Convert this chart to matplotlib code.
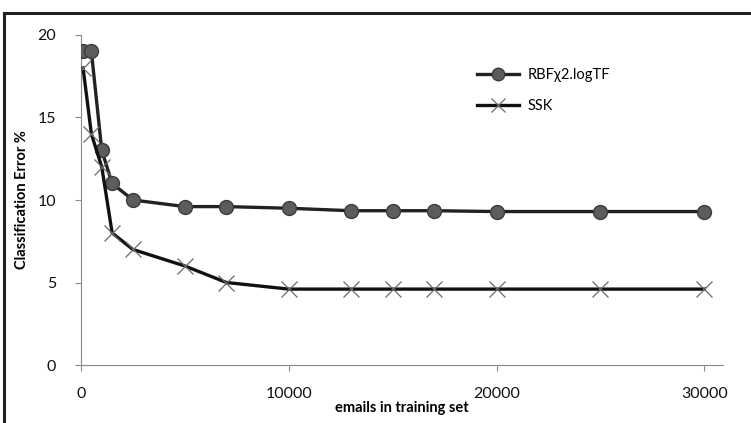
import matplotlib
matplotlib.use("Agg")
import matplotlib.pyplot as plt
from matplotlib.lines import Line2D

plt.rcParams['font.family'] = ['Lato', 'DejaVu Sans']

emails = [100, 500, 1000, 1500, 2500, 5000, 7000, 10000, 13000, 15000, 17000, 20000, 25000, 30000]
rbf_err = [19.0, 19.0, 13.0, 11.0, 10.0, 9.6, 9.6, 9.5, 9.35, 9.35, 9.35, 9.3, 9.3, 9.3]
ssk_err = [18.0, 14.0, 12.0, 8.0, 7.0, 6.0, 5.0, 4.6, 4.6, 4.6, 4.6, 4.6, 4.6, 4.6]
x_ticks = [0, 10000, 20000, 30000]
y_ticks = [0, 5, 10, 15, 20]
series_names = ['RBF\u03c72.logTF', 'SSK']

W, H = 751, 423
fig = plt.figure(figsize=(W / 100, H / 100), dpi=100)
ax = fig.add_axes([81 / W, 1 - 365 / H, (723 - 81) / W, (365 - 35) / H])

ax.plot(emails, rbf_err, color='#222222', lw=2.4, marker='o', ms=10,
        mfc='#5c5c5c', mec='#3c3c3c', mew=1.0, label=series_names[0], zorder=3)
ax.plot(emails, ssk_err, color='#111111', lw=2.4, marker='x', ms=11,
        mec='#6a6a6a', mew=0.9, label=series_names[1], zorder=3)

ax.set_xlim(0, 30900)
ax.set_ylim(0, 20)
ax.set_xticks(x_ticks)
ax.set_yticks(y_ticks)
for s in ['top', 'right']:
    ax.spines[s].set_visible(False)
for s in ['left', 'bottom']:
    ax.spines[s].set_color('#8a8a8a')
    ax.spines[s].set_linewidth(0.8)
    ax.spines[s].set_linestyle((0, (1, 0.6)))
ax.tick_params(axis='both', colors='#8a8a8a', length=4, width=0.8, labelsize=11.5,
               labelcolor='#111111')
ax.tick_params(axis='y', pad=14)
ax.tick_params(axis='x', pad=12)

ax.set_xlabel('emails in training set', fontsize=10.5, fontweight='bold', labelpad=0)
ax.set_ylabel('Classification Error %', fontsize=10.5, fontweight='bold', labelpad=6)

leg = fig.legend(loc='upper left', bbox_to_anchor=(477 / W, 1 - 68 / H),
                 frameon=False, fontsize=10.5, handlelength=2.9, handletextpad=0.6,
                 borderpad=0, borderaxespad=0, labelspacing=1.2, markerscale=0.9)

# chart-area border (top and left visible)
fig.add_artist(Line2D([4 / W, 1.0], [1 - 13 / H, 1 - 13 / H], transform=fig.transFigure,
                      color='#222222', lw=2.2))
fig.add_artist(Line2D([4 / W, 4 / W], [0, 1 - 13 / H], transform=fig.transFigure,
                      color='#222222', lw=2.2))

fig.savefig('out.png', dpi=100)
